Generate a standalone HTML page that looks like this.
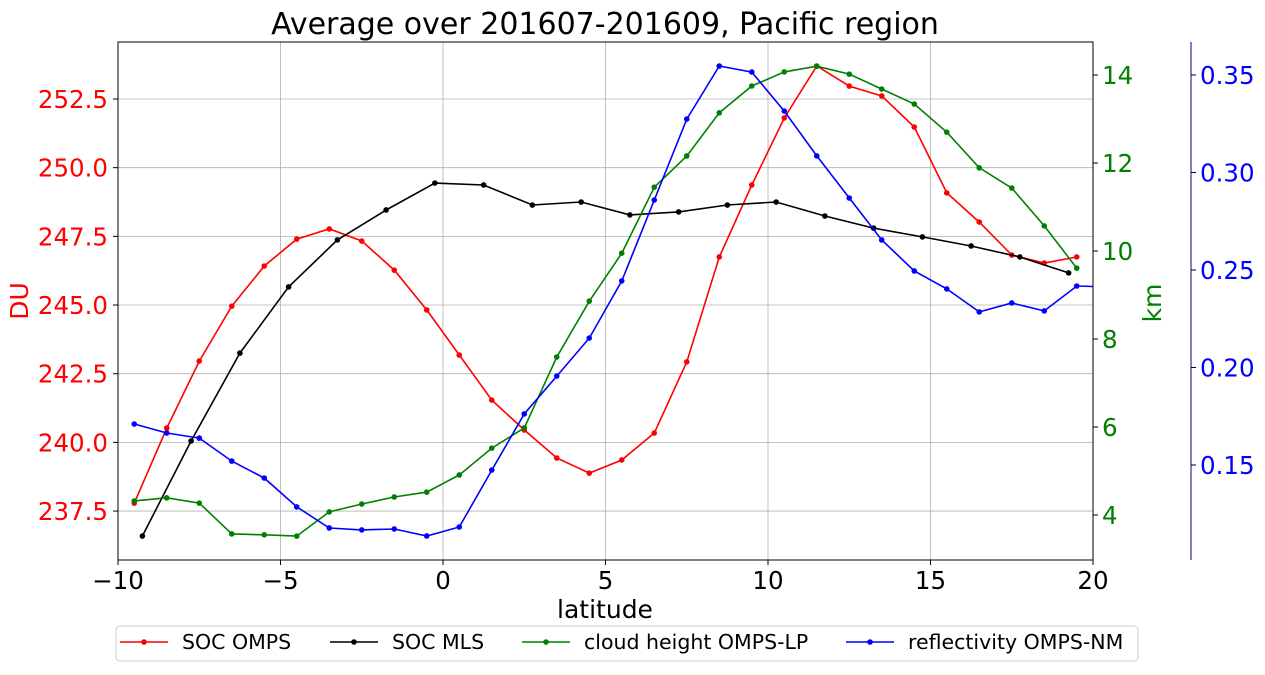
<!DOCTYPE html>
<html><head><meta charset="utf-8"><style>
body{margin:0;background:#fff}
svg{display:block;font-family:"DejaVu Sans","Liberation Sans",sans-serif}
</style></head><body>
<svg id="chart" width="1265" height="675" viewBox="0 0 1265 675"></svg>
<script>
const redLat=[-9.5,-8.5,-7.5,-6.5,-5.5,-4.5,-3.5,-2.5,-1.5,-0.5,0.5,1.5,2.5,3.5,4.5,5.5,6.5,7.5,8.5,9.5,10.5,11.5,12.5,13.5,14.5,15.5,16.5,17.5,18.5,19.5];
const socOmps=[237.79,240.52,242.96,244.96,246.42,247.40,247.77,247.33,246.27,244.82,243.18,241.54,240.45,239.43,238.88,239.36,240.34,242.93,246.75,249.37,251.81,253.70,252.97,252.61,251.48,249.08,248.02,246.82,246.53,246.75];
const mlsLat=[-9.25,-7.75,-6.25,-4.75,-3.25,-1.75,-0.25,1.25,2.75,4.25,5.75,7.25,8.75,10.25,11.75,13.25,14.75,16.25,17.75,19.25];
const socMls=[236.59,240.05,243.25,245.66,247.37,248.46,249.44,249.37,248.64,248.75,248.28,248.39,248.64,248.75,248.24,247.80,247.48,247.15,246.75,246.17];
const cloudHeight=[4.32,4.39,4.27,3.57,3.55,3.52,4.07,4.25,4.41,4.52,4.91,5.52,5.98,7.59,8.86,9.95,11.45,12.16,13.14,13.75,14.07,14.2,14.02,13.68,13.34,12.70,11.89,11.43,10.57,9.61];
const reflLat=[-9.5,-8.5,-7.5,-6.5,-5.5,-4.5,-3.5,-2.5,-1.5,-0.5,0.5,1.5,2.5,3.5,4.5,5.5,6.5,7.5,8.5,9.5,10.5,11.5,12.5,13.5,14.5,15.5,16.5,17.5,18.5,19.5,20.5];
const reflectivity=[0.171,0.1664,0.1638,0.152,0.1433,0.1285,0.1177,0.1167,0.1172,0.1136,0.1182,0.1474,0.1762,0.1956,0.2151,0.2444,0.2859,0.3274,0.3546,0.3515,0.3315,0.3085,0.2869,0.2654,0.2495,0.2403,0.2285,0.2331,0.229,0.2418,0.2413];
const xTicks=[-10,-5,0,5,10,15,20];
const duTicks=[237.5,240,242.5,245,247.5,250,252.5];
const kmTicks=[4,6,8,10,12,14];
const reflTicks=[0.15,0.20,0.25,0.30,0.35];

const L=118,R=1093,T=42,B=560;
const sx=v=>L+(v+10)*(R-L)/30;
const sDU=v=>99+(252.5-v)*27.47;
const sKm=v=>75+(14-v)*44;
const sRef=v=>75+(0.35-v)*1950;
const svg=document.getElementById('chart');
const NS='http://www.w3.org/2000/svg';
function mk(tag,attrs,parent){const e=document.createElementNS(NS,tag);for(const k in attrs)e.setAttribute(k,attrs[k]);(parent||svg).appendChild(e);return e;}
function txt(s,attrs){const e=mk('text',attrs);e.textContent=s;return e;}

const defs=mk('defs',{});
const cp=mk('clipPath',{id:'clip'},defs);mk('rect',{x:L,y:T,width:R-L,height:B-T},cp);

xTicks.forEach(t=>{const g=mk('line',{x1:sx(t),x2:sx(t),y1:T,y2:B,stroke:'#b0b0b0','stroke-width':0.8});
});
duTicks.forEach(t=>{const g=mk('line',{x1:L,x2:R,y1:sDU(t),y2:sDU(t),stroke:'#b0b0b0','stroke-width':0.8});
});

function series(xs,ys,sy,color,name){
  const g=mk('g',{'clip-path':'url(#clip)'});
  
  const pts=xs.map((x,i)=>sx(x).toFixed(1)+','+sy(ys[i]).toFixed(1)).join(' ');
  mk('polyline',{points:pts,fill:'none',stroke:color,'stroke-width':1.6},g);
  xs.forEach((x,i)=>{const c=mk('circle',{cx:sx(x),cy:sy(ys[i]),r:2.8,fill:color},g);
  });
}
series(redLat,socOmps,sDU,'#ff0000','soc-omps-series');
series(mlsLat,socMls,sDU,'#000000','soc-mls-series');
series(redLat,cloudHeight,sKm,'#008000','cloud-height-series');
series(reflLat,reflectivity,sRef,'#0000ff','reflectivity-series');

mk('rect',{x:L,y:T,width:R-L,height:B-T,fill:'none',stroke:'#000','stroke-width':1});
xTicks.forEach(t=>{mk('line',{x1:sx(t),x2:sx(t),y1:B,y2:B+5,stroke:'#000'});
const e=txt(t<0?'\u2212'+(-t):String(t),{x:sx(t),y:B+29,'text-anchor':'middle','font-size':24.5,fill:'#000'});
});
duTicks.forEach(t=>{mk('line',{x1:L-5,x2:L,y1:sDU(t),y2:sDU(t),stroke:'#000'});
const e=txt(t.toFixed(1),{x:L-10,y:sDU(t)+9,'text-anchor':'end','font-size':24.5,fill:'#ff0000'});
});
kmTicks.forEach(t=>{mk('line',{x1:R,x2:R+5,y1:sKm(t),y2:sKm(t),stroke:'#000'});
const e=txt(String(t),{x:R+9,y:sKm(t)+9,'font-size':24.5,fill:'#008000'});
});
mk('line',{x1:1191,x2:1191,y1:T,y2:B,stroke:'#000080','stroke-width':1});
reflTicks.forEach(t=>{mk('line',{x1:1191,x2:1196,y1:sRef(t),y2:sRef(t),stroke:'#000'});
const e=txt(t.toFixed(2),{x:1200,y:sRef(t)+9,'font-size':24.5,fill:'#0000ff'});
});
</script>
<svg style="position:absolute;left:0;top:0" width="1265" height="675">
<text x="605" y="34" text-anchor="middle" font-size="30" font-family="DejaVu Sans, sans-serif">Average over 201607-201609, Pacific region</text>
<text x="605" y="618" text-anchor="middle" font-size="25" font-family="DejaVu Sans, sans-serif">latitude</text>
<text transform="translate(28,301) rotate(-90)" text-anchor="middle" font-size="25" fill="#ff0000" font-family="DejaVu Sans, sans-serif">DU</text>
<text transform="translate(1161,303) rotate(-90)" text-anchor="middle" font-size="25" fill="#008000" font-family="DejaVu Sans, sans-serif">km</text>
<g font-family="DejaVu Sans, sans-serif" font-size="20.5">
<rect x="116" y="626" width="1022" height="35" rx="4" fill="#fff" stroke="#ccc"/>
<g><line x1="120" x2="168" y1="642" y2="642" stroke="#f00" stroke-width="1.6"/><circle cx="144" cy="642" r="2.8" fill="#f00"/><text x="182" y="649">SOC OMPS</text></g>
<g><line x1="330" x2="378" y1="642" y2="642" stroke="#000" stroke-width="1.6"/><circle cx="354" cy="642" r="2.8"/><text x="392" y="649">SOC MLS</text></g>
<g><line x1="522" x2="570" y1="642" y2="642" stroke="#008000" stroke-width="1.6"/><circle cx="546" cy="642" r="2.8" fill="#008000"/><text x="584" y="649">cloud height OMPS-LP</text></g>
<g><line x1="846" x2="894" y1="642" y2="642" stroke="#00f" stroke-width="1.6"/><circle cx="870" cy="642" r="2.8" fill="#00f"/><text x="908" y="649">reflectivity OMPS-NM</text></g>
</g>
</svg>
</body></html>
